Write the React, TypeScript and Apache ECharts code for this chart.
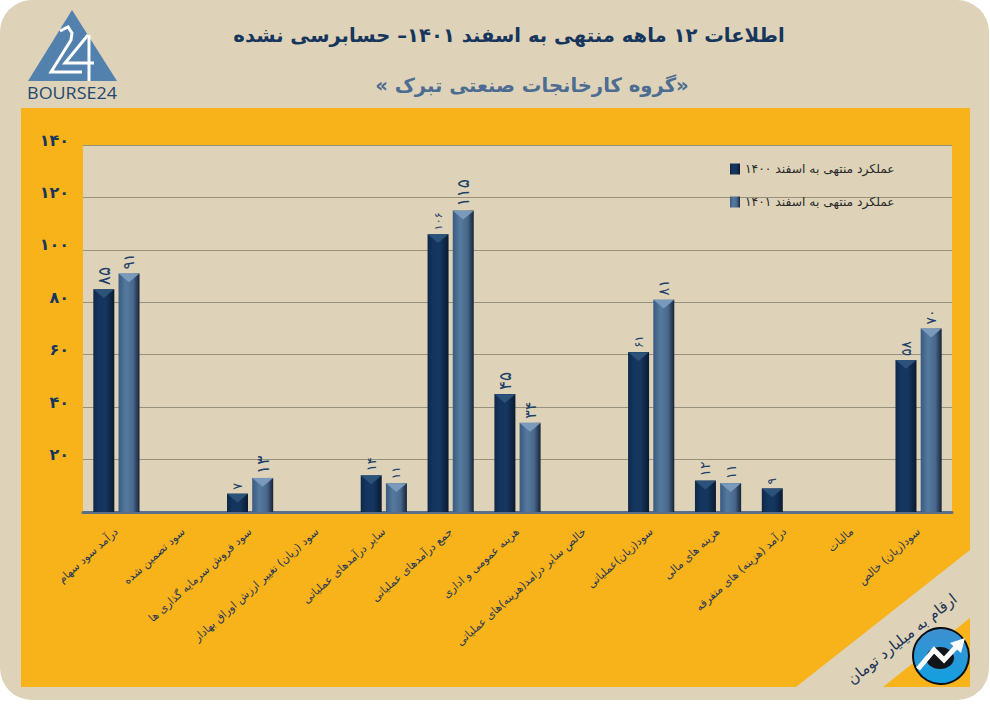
import React, { useEffect, useRef } from "react";
import * as echarts from "echarts";

const categories = [
  "درآمد سود سهام",
  "سود تضمین شده",
  "سود فروش سرمایه گذاری ها",
  "سود (زیان) تغییر ارزش اوراق بهادار",
  "سایر درآمدهای عملیاتی",
  "جمع درآمدهای عملیاتی",
  "هزینه عمومی و اداری",
  "خالص سایر درامد(هزینه)های عملیاتی",
  "سود(زیان)عملیاتی",
  "هزینه های مالی",
  "درآمد (هزینه) های متفرقه",
  "مالیات",
  "سود(زیان) خالص",
];
const name1400 = "عملکرد منتهی به اسفند ۱۴۰۰";
const name1401 = "عملکرد منتهی به اسفند ۱۴۰۱";
const values1400 = [85, null, 7, null, 14, 106, 45, null, 61, 12, 9, null, 58];
const values1401 = [91, null, 13, null, 11, 115, 34, null, 81, 11, null, null, 70];
const labelSizes1400 = [17, 0, 13, 0, 13, 11, 17, 0, 12, 14, 12, 0, 14];
const labelSizes1401 = [15, 0, 17, 0, 12, 17, 16, 0, 15, 14, 0, 0, 14];
const titleText = "اطلاعات ۱۲ ماهه منتهی به اسفند ۱۴۰۱– حسابرسی نشده";
const subtitleText = "\u202B«گروه کارخانجات صنعتی تبرک »\u202C";
const unitText = "ارقام به میلیارد تومان";

const FONT = "DejaVu Sans";
const persian = (v: number) => String(v).replace(/\d/g, (d) => "۰۱۲۳۴۵۶۷۸۹"[+d]);
const hGrad = (stops: [number, string][]) => ({
  type: "linear", x: 0, y: 0, x2: 1, y2: 0,
  colorStops: stops.map(([offset, color]) => ({ offset, color })),
});
const grad1400 = hGrad([[0, "#0e2747"], [0.25, "#15355f"], [0.6, "#14365f"], [1, "#0a1a30"]]);
const grad1401 = hGrad([[0, "#3a5a80"], [0.35, "#567a9f"], [0.7, "#48688c"], [1, "#172338"]]);
const BAR_W = 21;
const BAR_GAP = "20%";

const barSeries = (name: string, data: (number | null)[], color: any, sizes: number[]) => ({
  type: "bar",
  name,
  data: data.map((v, i) => ({
    value: v,
    label: { fontSize: sizes[i] || 12 },
  })),
  barWidth: BAR_W,
  barGap: BAR_GAP,
  itemStyle: { color },
  z: 3,
  label: {
    show: true,
    position: "top",
    rotate: 90,
    distance: 4,
    align: "left",
    verticalAlign: "middle",
    color: "#1d3f69",
    fontFamily: FONT,
    fontWeight: "normal",
    formatter: (p: any) => persian(p.value),
  },
});
const bevelSeries = (data: (number | null)[], color: string) => ({
  type: "pictorialBar",
  name: "bevel" + color,
  data,
  barWidth: BAR_W,
  barGap: BAR_GAP,
  symbol: "triangle",
  symbolRotate: 180,
  symbolSize: [BAR_W, 9],
  symbolPosition: "end",
  symbolOffset: [0, 0],
  itemStyle: { color },
  z: 4,
  silent: true,
});

const logoStyle = { fill: "none", stroke: "#fff", lineWidth: 3 };

export default function App() {
  const ref = useRef<HTMLDivElement>(null);
  useEffect(() => {
    const chart = echarts.init(ref.current!, null, { renderer: "svg" });
    chart.setOption({
      animation: false,
      backgroundColor: "#ffffff",
      textStyle: { fontFamily: FONT },
      title: [
        {
          text: titleText, left: 504, top: 20, textAlign: "center",
          textStyle: { color: "#17365d", fontSize: 19.6, fontWeight: "bold", fontFamily: FONT },
        },
        {
          text: subtitleText, left: 527, top: 70, textAlign: "center",
          textStyle: { color: "#4d6c92", fontSize: 19.6, fontWeight: "bold", fontFamily: FONT },
        },
      ],
      legend: {
        data: [name1400, name1401],
        orient: "vertical",
        left: 725,
        top: 158,
        itemWidth: 10,
        itemHeight: 11,
        itemGap: 21,
        icon: "rect",
        textStyle: { fontFamily: FONT, fontSize: 12.3, color: "#2a2a2a" },
      },
      grid: {
        show: true, left: 83, right: 38, top: 145, bottom: 193,
        backgroundColor: "#ded3b8", borderWidth: 0,
      },
      xAxis: {
        type: "category",
        data: categories,
        axisTick: { show: false },
        axisLine: { lineStyle: { color: "#587089", width: 3 } },
        axisLabel: {
          interval: 0, rotate: 42, margin: 18, fontSize: 11,
          color: "#1d3557", fontFamily: FONT,
        },
      },
      yAxis: {
        type: "value",
        min: 0,
        max: 140,
        interval: 20,
        axisLine: { show: false },
        axisTick: { show: false },
        splitLine: { lineStyle: { color: "#96917d", width: 1 } },
        axisLabel: {
          margin: 14, fontSize: 16, fontWeight: "bold", color: "#17365d", fontFamily: FONT,
          verticalAlign: "bottom", lineHeight: 10,
          formatter: (v: number) => (v === 0 ? "" : persian(v)),
        },
      },
      series: [
        barSeries(name1400, values1400, grad1400, labelSizes1400),
        barSeries(name1401, values1401, grad1401, labelSizes1401),
        bevelSeries(values1400, "#2c527a"),
        bevelSeries(values1401, "#7a9abb"),
      ],
      graphic: [
        { type: "rect", z: -30, shape: { x: 0, y: 0, width: 989, height: 700, r: 32 }, style: { fill: "#ded3b8" } },
        {
          type: "polygon", z: -20,
          shape: { points: [[21, 108], [970, 108], [970, 550], [796, 687], [21, 687]] },
          style: { fill: "#f8b21a" },
        },
        {
          type: "polygon", z: -20,
          shape: { points: [[970, 618], [970, 687], [883, 687]] },
          style: { fill: "#f8b21a" },
        },
        // logo
        { type: "polygon", z: -10, shape: { points: [[72, 10], [117, 81], [28, 81]] }, style: { fill: "#5381ad" } },
        { type: "polyline", z: -9, shape: { points: [[60, 31], [68, 27], [72, 33], [71, 40], [51, 72], [82, 72]] }, style: logoStyle },
        { type: "polyline", z: -9, shape: { points: [[88, 35], [65, 63], [94, 63]] }, style: logoStyle },
        { type: "line", z: -9, shape: { x1: 89, y1: 35, x2: 89, y2: 81 }, style: { stroke: "#fff", lineWidth: 3 } },
        {
          type: "text", z: -9, x: 72, y: 93, scaleX: 1.12,
          style: {
            text: "BOURSE24", fill: "#24466e", fontSize: 16, fontFamily: "Open Sans",
            align: "center", verticalAlign: "middle",
          },
        },
        // unit
        {
          type: "text", z: -9, x: 902, y: 639, rotation: (38.5 * Math.PI) / 180,
          style: {
            text: unitText, fill: "#1d3557", fontSize: 15, fontFamily: FONT,
            align: "center", verticalAlign: "middle",
          },
        },
        // badge
        {
          type: "circle", z: -8, shape: { cx: 941, cy: 656, r: 28 },
          style: {
            fill: { type: "linear", x: 0, y: 0, x2: 0, y2: 1, colorStops: [{ offset: 0, color: "#3f8fd0" }, { offset: 1, color: "#12a0e0" }] },
            stroke: "#0b0f14", lineWidth: 2,
          },
        },
        { type: "ellipse", z: -7, shape: { cx: 940, cy: 658, rx: 14, ry: 11 }, style: { fill: "#111418" } },
        { type: "polyline", z: -6, shape: { points: [[918, 669], [934, 650], [944, 660], [958, 645]] }, style: { fill: "none", stroke: "#fff", lineWidth: 5 } },
        { type: "polygon", z: -6, shape: { points: [[965, 638], [961, 653], [950, 643]] }, style: { fill: "#fff" } },
      ],
    });
    return () => chart.dispose();
  }, []);
  return <div ref={ref} style={{ position: "absolute", left: 0, top: 0, width: 990, height: 705 }} />;
}
